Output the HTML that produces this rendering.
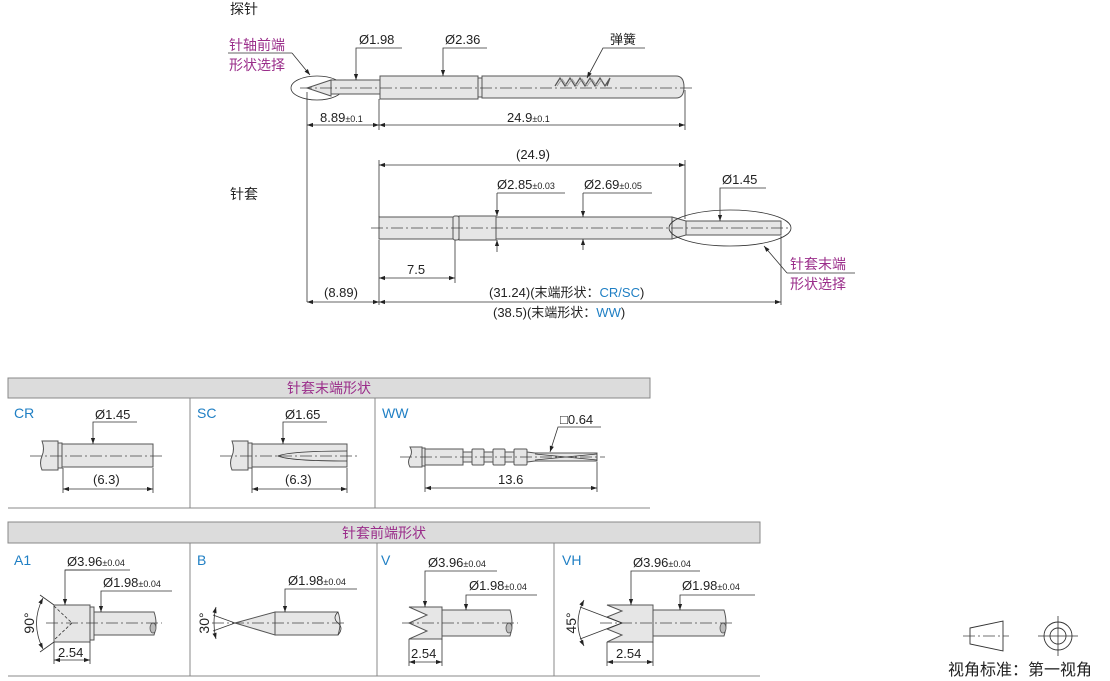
<!DOCTYPE html>
<html><head><meta charset="utf-8"><style>
html,body{margin:0;padding:0;background:#fff;}
svg{display:block;font-family:"Liberation Sans","Noto Sans CJK SC",sans-serif;}
.p{fill:#e6e6e6;stroke:#555;stroke-width:1;}
.l{stroke:#333;stroke-width:0.8;fill:none;}
.c{stroke:#444;stroke-width:0.8;stroke-dasharray:12 3 2 3;fill:none;}
.t{font-size:13px;fill:#222;}
.s{font-size:9px;fill:#222;}
.pu{font-size:14px;fill:#9a2d8a;}
.bl{fill:#1f7fc4;}
</style></head><body>
<svg width="1110" height="681" viewBox="0 0 1110 681" xmlns="http://www.w3.org/2000/svg">
<defs>
<marker id="a" viewBox="0 0 10 10" refX="10" refY="5" markerWidth="9" markerHeight="6" orient="auto-start-reverse" markerUnits="userSpaceOnUse"><path d="M0,1.5 L10,5 L0,8.5z" fill="#222"/></marker>
</defs>

<!-- ===== Probe ===== -->
<text x="230" y="14" class="t" style="font-size:14px">探针</text>
<text x="229" y="50" class="pu">针轴前端</text>
<line x1="228" y1="53" x2="292" y2="53" class="l"/>
<text x="229" y="70" class="pu">形状选择</text>
<line x1="292" y1="53" x2="310" y2="75" class="l" marker-end="url(#a)"/>
<ellipse cx="317" cy="88" rx="26" ry="12" class="l"/>
<path d="M307,88 L331,80 L331,96 Z" class="p"/>
<rect x="331" y="80" width="49" height="14" class="p"/>
<rect x="380" y="76" width="98" height="23" class="p"/>
<rect x="478" y="78" width="4" height="19" class="p"/>
<path d="M482,76 L676,76 Q684,76 684,87 Q684,98 676,98 L482,98 Z" class="p"/>
<path d="M555,86 L560,78 L565,86 L570,78 L575,86 L580,78 L585,86 L590,78 L595,86 L600,78 L605,86 L610,78 L607,86" stroke="#555" stroke-width="1.2" fill="none"/>
<path d="M557,86 L562,79 L567,86 L572,79 L577,86 L582,79 L587,86 L592,79 L597,86 L602,79" stroke="#999" stroke-width="0.8" fill="none"/>
<line x1="300" y1="88" x2="692" y2="88" class="c"/>
<text x="359" y="44" class="t">Ø1.98</text>
<polyline points="402,48 356,48 356,80" class="l" marker-end="url(#a)"/>
<text x="445" y="44" class="t">Ø2.36</text>
<polyline points="487,48 443,48 443,76" class="l" marker-end="url(#a)"/>
<text x="610" y="44" class="t">弹簧</text>
<polyline points="645,48 603,48 587,78" class="l" marker-end="url(#a)"/>
<line x1="307" y1="92" x2="307" y2="302" class="l"/>
<line x1="379" y1="99" x2="379" y2="130" class="l"/>
<line x1="685" y1="90" x2="685" y2="130" class="l"/>
<line x1="307" y1="125" x2="379" y2="125" class="l" marker-start="url(#a)" marker-end="url(#a)"/>
<line x1="379" y1="125" x2="685" y2="125" class="l" marker-start="url(#a)" marker-end="url(#a)"/>
<text x="320" y="122" class="t">8.89<tspan class="s">±0.1</tspan></text>
<text x="507" y="122" class="t">24.9<tspan class="s">±0.1</tspan></text>

<!-- ===== Sleeve ===== -->
<text x="230" y="199" class="t" style="font-size:14px">针套</text>
<rect x="379" y="217" width="74" height="22" class="p"/>
<rect x="453" y="216" width="6" height="24" rx="2" class="p"/>
<rect x="459" y="216" width="37" height="24" class="p"/>
<rect x="496" y="217" width="176" height="22" class="p"/>
<path d="M672,217 L686,221 L686,235 L672,239 Z" class="p"/>
<rect x="686" y="221" width="95" height="14" class="p"/>
<ellipse cx="730" cy="228" rx="61" ry="18" class="l"/>
<line x1="371" y1="228" x2="788" y2="228" class="c"/>
<line x1="379" y1="160" x2="379" y2="217" class="l"/>
<line x1="685" y1="160" x2="685" y2="219" class="l"/>
<line x1="379" y1="165" x2="685" y2="165" class="l" marker-start="url(#a)" marker-end="url(#a)"/>
<text x="516" y="159" class="t">(24.9)</text>
<text x="497" y="189" class="t">Ø2.85<tspan class="s">±0.03</tspan></text>
<line x1="497" y1="193" x2="565" y2="193" class="l"/>
<line x1="497" y1="193" x2="497" y2="216" class="l" marker-end="url(#a)"/>
<line x1="497" y1="252" x2="497" y2="240" class="l" marker-end="url(#a)"/>
<text x="584" y="189" class="t">Ø2.69<tspan class="s">±0.05</tspan></text>
<line x1="583" y1="193" x2="652" y2="193" class="l"/>
<line x1="583" y1="193" x2="583" y2="217" class="l" marker-end="url(#a)"/>
<line x1="583" y1="250" x2="583" y2="239" class="l" marker-end="url(#a)"/>
<text x="722" y="184" class="t">Ø1.45</text>
<polyline points="766,188 720,188 720,221" class="l" marker-end="url(#a)"/>
<text x="790" y="269" class="pu">针套末端</text>
<line x1="787" y1="273" x2="855" y2="273" class="l"/>
<text x="790" y="289" class="pu">形状选择</text>
<line x1="787" y1="273" x2="764" y2="246" class="l" marker-end="url(#a)"/>
<line x1="379" y1="240" x2="379" y2="305" class="l"/>
<line x1="455" y1="240" x2="455" y2="283" class="l"/>
<line x1="781" y1="236" x2="781" y2="305" class="l"/>
<line x1="379" y1="278" x2="455" y2="278" class="l" marker-start="url(#a)" marker-end="url(#a)"/>
<text x="407" y="274" class="t">7.5</text>
<line x1="307" y1="302" x2="379" y2="302" class="l" marker-start="url(#a)" marker-end="url(#a)"/>
<line x1="379" y1="302" x2="781" y2="302" class="l" marker-start="url(#a)" marker-end="url(#a)"/>
<text x="324" y="297" class="t">(8.89)</text>
<text x="489" y="297" class="t">(31.24)(末端形状：<tspan class="bl">CR/SC</tspan>)</text>
<text x="493" y="317" class="t">(38.5)(末端形状：<tspan class="bl">WW</tspan>)</text>

<!-- ===== Table 1 ===== -->
<rect x="8" y="378" width="642" height="20" fill="#dcdcdc" stroke="#888" stroke-width="1"/>
<text x="329" y="393" class="pu" text-anchor="middle">针套末端形状</text>
<line x1="8" y1="508" x2="650" y2="508" stroke="#888"/>
<line x1="190" y1="398" x2="190" y2="508" stroke="#888"/>
<line x1="375" y1="398" x2="375" y2="508" stroke="#888"/>
<!-- CR -->
<text x="14" y="418" class="t bl" style="font-size:14px">CR</text>
<path d="M42,441 L58,441 L58,470 L42,470 Q39,463 42,456 Q45,449 42,441Z" class="p"/>
<rect x="58" y="443" width="4" height="25" class="p"/>
<rect x="62" y="444" width="91" height="23" class="p"/>
<line x1="30" y1="456" x2="163" y2="456" class="c"/>
<text x="95" y="419" class="t">Ø1.45</text>
<polyline points="137,422 93,422 93,444" class="l" marker-end="url(#a)"/>
<line x1="63" y1="468" x2="63" y2="493" class="l"/>
<line x1="153" y1="468" x2="153" y2="493" class="l"/>
<line x1="63" y1="489" x2="153" y2="489" class="l" marker-start="url(#a)" marker-end="url(#a)"/>
<text x="93" y="484" class="t">(6.3)</text>
<!-- SC -->
<text x="197" y="418" class="t bl" style="font-size:14px">SC</text>
<path d="M232,441 L248,441 L248,470 L232,470 Q229,463 232,456 Q235,449 232,441Z" class="p"/>
<rect x="248" y="443" width="4" height="25" class="p"/>
<rect x="252" y="444" width="95" height="23" class="p"/>
<path d="M347,451 Q290,451 278,456 Q290,461 347,461" class="l"/>
<line x1="220" y1="456" x2="357" y2="456" class="c"/>
<text x="285" y="419" class="t">Ø1.65</text>
<polyline points="327,422 283,422 283,444" class="l" marker-end="url(#a)"/>
<line x1="252" y1="468" x2="252" y2="493" class="l"/>
<line x1="347" y1="468" x2="347" y2="493" class="l"/>
<line x1="252" y1="489" x2="347" y2="489" class="l" marker-start="url(#a)" marker-end="url(#a)"/>
<text x="285" y="484" class="t">(6.3)</text>
<!-- WW -->
<text x="382" y="418" class="t bl" style="font-size:14px">WW</text>
<path d="M410,447 L422,447 L422,467 L410,467 Q407,462 410,457 Q413,452 410,447Z" class="p"/>
<rect x="422" y="448" width="3" height="18" class="p"/>
<rect x="425" y="449" width="38" height="16" class="p"/>
<rect x="463" y="452" width="9" height="10" class="p"/>
<rect x="472" y="449" width="12" height="16" rx="1" class="p"/>
<rect x="484" y="452" width="9" height="10" class="p"/>
<rect x="493" y="449" width="12" height="16" rx="1" class="p"/>
<rect x="505" y="452" width="9" height="10" class="p"/>
<rect x="514" y="449" width="13" height="16" rx="1" class="p"/>
<path d="M527,452 L535,453 L597,453 L597,461 L535,461 L527,462 Z" class="p"/>
<path d="M535,454 L597,460 M535,460 L597,454" class="l"/>
<line x1="400" y1="457" x2="605" y2="457" class="c"/>
<text x="560" y="424" class="t">□0.64</text>
<polyline points="601,427 558,427 550,452" class="l" marker-end="url(#a)"/>
<line x1="425" y1="466" x2="425" y2="492" class="l"/>
<line x1="597" y1="462" x2="597" y2="492" class="l"/>
<line x1="425" y1="488" x2="597" y2="488" class="l" marker-start="url(#a)" marker-end="url(#a)"/>
<text x="498" y="484" class="t">13.6</text>

<!-- ===== Table 2 ===== -->
<rect x="8" y="522" width="752" height="21" fill="#dcdcdc" stroke="#888" stroke-width="1"/>
<text x="384" y="538" class="pu" text-anchor="middle">针套前端形状</text>
<line x1="8" y1="676" x2="760" y2="676" stroke="#888"/>
<line x1="190" y1="543" x2="190" y2="676" stroke="#888"/>
<line x1="377" y1="543" x2="377" y2="676" stroke="#888"/>
<line x1="554" y1="543" x2="554" y2="676" stroke="#888"/>
<!-- A1 -->
<text x="14" y="565" class="t bl" style="font-size:14px">A1</text>
<rect x="54" y="605" width="36" height="37" class="p"/>
<rect x="90" y="607" width="4" height="33" class="p"/>
<path d="M94,612 L154,612 Q158,623 154,635 L94,635Z" class="p"/>
<ellipse cx="153" cy="628" rx="3" ry="5" fill="#bbb" stroke="#555" stroke-width="0.8"/>
<path d="M54,606 L72,623 L54,640" class="l" stroke-dasharray="3 2"/>
<line x1="46" y1="623" x2="162" y2="623" class="c"/>
<line x1="54" y1="605" x2="40" y2="595" class="l"/>
<line x1="54" y1="642" x2="40" y2="652" class="l"/>
<path d="M43,598 Q30,623 43,649" class="l" marker-start="url(#a)" marker-end="url(#a)"/>
<text x="34" y="623" class="t" transform="rotate(-90 34 623)" text-anchor="middle" style="font-size:14px">90°</text>
<text x="67" y="566" class="t">Ø3.96<tspan class="s">±0.04</tspan></text>
<polyline points="90,570 65,570 65,605" class="l" marker-end="url(#a)"/>
<line x1="65" y1="570" x2="130" y2="570" class="l"/>
<text x="103" y="587" class="t">Ø1.98<tspan class="s">±0.04</tspan></text>
<polyline points="172,591 101,591 101,612" class="l" marker-end="url(#a)"/>
<line x1="54" y1="642" x2="54" y2="664" class="l"/>
<line x1="90" y1="642" x2="90" y2="664" class="l"/>
<line x1="54" y1="660" x2="90" y2="660" class="l" marker-start="url(#a)" marker-end="url(#a)"/>
<text x="58" y="657" class="t">2.54</text>
<!-- B -->
<text x="197" y="565" class="t bl" style="font-size:14px">B</text>
<path d="M235,623 L275,612 L275,635 Z" class="p"/>
<path d="M275,612 L338,612 Q342,623 338,635 L275,635Z" class="p"/>
<path d="M338,612 Q332,618 338,623 Q344,628 338,635" class="l"/>
<line x1="235" y1="623" x2="213" y2="615" class="l"/>
<line x1="235" y1="623" x2="213" y2="631" class="l"/>
<line x1="212" y1="623" x2="345" y2="623" class="c"/>
<path d="M216,607 Q212,623 216,639" class="l" marker-start="url(#a)" marker-end="url(#a)"/>
<text x="209" y="623" class="t" transform="rotate(-90 209 623)" text-anchor="middle" style="font-size:14px">30°</text>
<text x="288" y="585" class="t">Ø1.98<tspan class="s">±0.04</tspan></text>
<polyline points="357,589 285,589 285,612" class="l" marker-end="url(#a)"/>
<!-- V -->
<text x="381" y="565" class="t bl" style="font-size:14px">V</text>
<path d="M409,607 L442,607 L442,639 L409,639 L427,631 L409,623 L427,615 Z" class="p"/>
<path d="M442,610 L510,610 Q514,623 510,636 L442,636Z" class="p"/>
<ellipse cx="509" cy="628" rx="3" ry="5" fill="#bbb" stroke="#555" stroke-width="0.8"/>
<line x1="402" y1="623" x2="518" y2="623" class="c"/>
<text x="428" y="567" class="t">Ø3.96<tspan class="s">±0.04</tspan></text>
<polyline points="497,571 425,571 425,607" class="l" marker-end="url(#a)"/>
<text x="469" y="590" class="t">Ø1.98<tspan class="s">±0.04</tspan></text>
<polyline points="537,595 466,595 466,610" class="l" marker-end="url(#a)"/>
<line x1="409" y1="639" x2="409" y2="666" class="l"/>
<line x1="442" y1="639" x2="442" y2="666" class="l"/>
<line x1="409" y1="662" x2="442" y2="662" class="l" marker-start="url(#a)" marker-end="url(#a)"/>
<text x="411" y="658" class="t">2.54</text>
<!-- VH -->
<text x="562" y="565" class="t bl" style="font-size:14px">VH</text>
<path d="M607,605 L653,605 L653,642 L607,642 L622,635 L607,629 L622,623 L607,617 L622,611 Z" class="p"/>
<path d="M653,610 L724,610 Q728,623 724,636 L653,636Z" class="p"/>
<ellipse cx="723" cy="628" rx="3" ry="5" fill="#bbb" stroke="#555" stroke-width="0.8"/>
<line x1="600" y1="623" x2="733" y2="623" class="c"/>
<line x1="622" y1="623" x2="580" y2="607" class="l"/>
<line x1="622" y1="623" x2="580" y2="639" class="l"/>
<path d="M584,600 Q572,623 584,646" class="l" marker-start="url(#a)" marker-end="url(#a)"/>
<text x="576" y="623" class="t" transform="rotate(-90 576 623)" text-anchor="middle" style="font-size:14px">45°</text>
<text x="633" y="567" class="t">Ø3.96<tspan class="s">±0.04</tspan></text>
<polyline points="700,571 631,571 631,605" class="l" marker-end="url(#a)"/>
<text x="682" y="590" class="t">Ø1.98<tspan class="s">±0.04</tspan></text>
<polyline points="755,595 680,595 680,610" class="l" marker-end="url(#a)"/>
<line x1="607" y1="642" x2="607" y2="666" class="l"/>
<line x1="653" y1="642" x2="653" y2="666" class="l"/>
<line x1="607" y1="662" x2="653" y2="662" class="l" marker-start="url(#a)" marker-end="url(#a)"/>
<text x="616" y="658" class="t">2.54</text>

<!-- View symbol -->
<path d="M970,628 L1003,621 L1003,651 L970,644 Z" fill="none" stroke="#333" stroke-width="0.9"/>
<line x1="963" y1="636" x2="1009" y2="636" class="c" stroke-dasharray="6 2 2 2"/>
<circle cx="1058" cy="636" r="14" fill="none" stroke="#333" stroke-width="0.9"/>
<circle cx="1058" cy="636" r="8" fill="none" stroke="#333" stroke-width="0.9"/>
<line x1="1038" y1="636" x2="1078" y2="636" class="l"/>
<line x1="1058" y1="616" x2="1058" y2="656" class="l"/>
<text x="948" y="675" class="t" style="font-size:16px">视角标准：第一视角</text>
</svg>
</body></html>
